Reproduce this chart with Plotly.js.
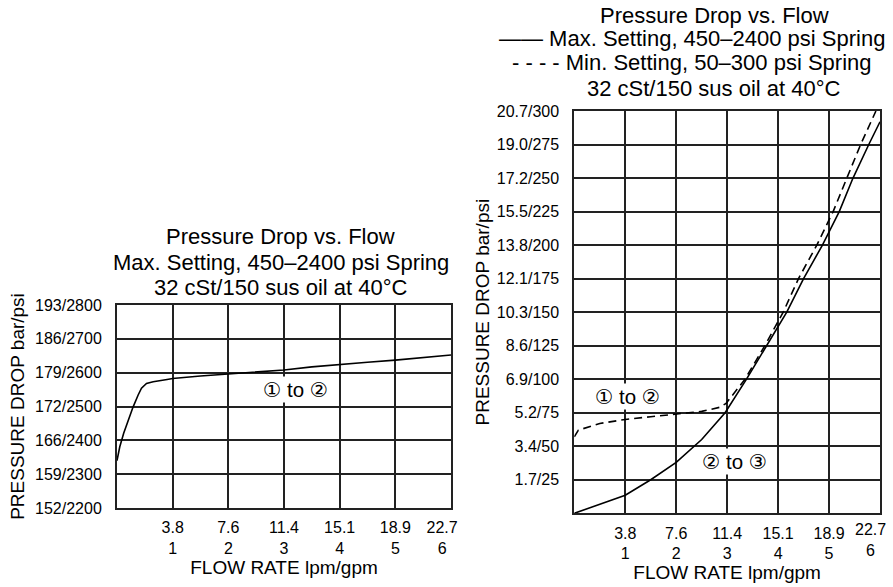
<!DOCTYPE html>
<html>
<head>
<meta charset="utf-8">
<script src="https://cdn.plot.ly/plotly-3.0.1.min.js"></script>
<style>
  html, body { margin: 0; padding: 0; background: #fff; }
  #chart { width: 893px; height: 587px; }
</style>
</head>
<body>
<div id="chart"></div>
<script>
// ---- Data ----
// Left chart: 1 to 2, max setting 450–2400 psi spring
const flowLeft = [0, 0.05, 0.12, 0.2, 0.29, 0.38, 0.44, 0.53, 0.65, 0.9, 1.0, 1.5, 2.0, 2.5, 3.0, 3.5, 4.0, 4.5, 5.0, 5.5, 6.0];
const psiLeft  = [2340, 2381, 2421, 2460, 2499, 2534, 2554, 2568, 2573, 2580, 2583, 2590, 2596, 2601, 2608, 2617, 2625, 2631, 2637, 2645, 2652];

// Right chart: solid = max setting (2 to 3), dashed = min setting (1 to 2)
const flowMax = [0, 0.5, 1.0, 1.5, 2.0, 2.5, 2.96, 3.38, 3.78, 4.17, 4.5, 4.87, 5.2, 5.47, 5.78, 6.0];
const psiMax  = [0, 6.5, 13.5, 25, 38, 55, 75, 100, 125, 150, 175, 200, 225, 250, 275, 292];

const flowMin = [0, 0.08, 0.5, 1.0, 1.5, 2.0, 2.5, 2.85, 2.98, 3.35, 3.74, 4.1, 4.4, 4.76, 5.08, 5.35, 5.62, 5.92];
const psiMin  = [57, 62, 67, 70, 72, 74, 76, 79, 82, 100, 125, 150, 175, 200, 225, 250, 275, 300];

// Tick labels
const flowTicks = [0, 1, 2, 3, 4, 5, 6];
const lpmLabels = ["", "3.8", "7.6", "11.4", "15.1", "18.9", "22.7"];
const gpmLabels = ["", "1", "2", "3", "4", "5", "6"];
const leftPsiTicks = [2200, 2300, 2400, 2500, 2600, 2700, 2800];
const leftPsiText = ["152/2200", "159/2300", "166/2400", "172/2500", "179/2600", "186/2700", "193/2800"];
const rightPsiTicks = [0, 25, 50, 75, 100, 125, 150, 175, 200, 225, 250, 275, 300];
const rightPsiText = ["", "1.7/25", "3.4/50", "5.2/75", "6.9/100", "8.6/125", "10.3/150", "12.1/175", "13.8/200", "15.5/225", "17.2/250", "19.0/275", "20.7/300"];

// Titles
const leftTitle = ["Pressure Drop vs. Flow", "Max. Setting, 450–2400 psi Spring", "32 cSt/150 sus oil at 40°C"];
const rightTitle = ["Pressure Drop vs. Flow", "—— Max. Setting, 450–2400 psi Spring", "- - - - Min. Setting, 50–300 psi Spring", "32 cSt/150 sus oil at 40°C"];

// ---- Layout helpers ----
const W = 893, H = 587;
const px = v => v / W;
const py = v => 1 - v / H;
const FONT = "Liberation Sans, Arial, Helvetica, sans-serif";
const GRID = "#222";
const PAD = "\u00a0\u00a0\u00a0\u00a0";
const LAST = lpmLabels.length - 1;
const pair = i => lpmLabels[i] === "" ? "" : lpmLabels[i] + "<br>" + gpmLabels[i];

// Left chart: last label sits slightly left of its gridline in the reference
const leftTickText = lpmLabels.map((l, i) =>
  i === LAST ? l + PAD + "<br>" + gpmLabels[i] + PAD : pair(i));
// Right chart: last label is drawn as a right-anchored annotation so it stays inside the page
const rightTickText = lpmLabels.map((l, i) => i === LAST ? "" : pair(i));

const traces = [
  { x: flowLeft, y: psiLeft, xaxis: "x", yaxis: "y", type: "scatter", mode: "lines",
    line: { color: "#000", width: 1.6 }, name: "① to ②", showlegend: false },
  { x: flowMax, y: psiMax, xaxis: "x2", yaxis: "y2", type: "scatter", mode: "lines",
    line: { color: "#000", width: 1.6 }, name: "Max. Setting", showlegend: false },
  { x: flowMin, y: psiMin, xaxis: "x2", yaxis: "y2", type: "scatter", mode: "lines",
    line: { color: "#000", width: 1.6, dash: "8px,5px" }, name: "Min. Setting", showlegend: false }
];

function xAxis(domain, ticktext) {
  return {
    domain: domain, range: [0, 6], tickvals: flowTicks, ticktext: ticktext,
    showgrid: true, gridcolor: GRID, gridwidth: 2, zeroline: false,
    showline: true, linecolor: GRID, linewidth: 2, mirror: true,
    ticks: "", ticklabelstandoff: 4, ticklabeloverflow: "allow", fixedrange: true,
    tickfont: { family: FONT, size: 16, color: "#000" },
    title: { text: "FLOW RATE lpm/gpm", font: { family: FONT, size: 19, color: "#000" }, standoff: 0 }
  };
}
function yAxis(domain, range, vals, text, anchor, standoff) {
  return {
    domain: domain, range: range, tickvals: vals, ticktext: text, anchor: anchor,
    showgrid: true, gridcolor: GRID, gridwidth: 2, zeroline: false,
    showline: true, linecolor: GRID, linewidth: 2, mirror: true,
    ticks: "", ticklabelstandoff: 10, fixedrange: true,
    tickfont: { family: FONT, size: 16, color: "#000" },
    title: { text: "PRESSURE DROP bar/psi", font: { family: FONT, size: 19, color: "#000" }, standoff: standoff }
  };
}

const annotations = [];
const leftTitleY = [236, 262, 287];
leftTitle.forEach((t, i) => annotations.push({
  text: t, xref: "paper", yref: "paper", x: px(280.5), y: py(leftTitleY[i]),
  xanchor: "center", yanchor: "middle", showarrow: false,
  font: { family: FONT, size: 22, color: "#000" }
}));
const rightTitleY = [15, 39, 63, 88];
const rightTitleX = [714, 692, 692, 713];
rightTitle.forEach((t, i) => annotations.push({
  text: t, xref: "paper", yref: "paper", x: px(rightTitleX[i]), y: py(rightTitleY[i]),
  xanchor: "center", yanchor: "middle", showarrow: false,
  font: { family: FONT, size: 22, color: "#000" }
}));
// last flow-rate tick label of the right chart
annotations.push({
  text: pair(LAST), xref: "x2", yref: "y2", x: flowTicks[LAST], y: 0,
  xanchor: "right", yanchor: "top", align: "center", xshift: 8, yshift: -6, showarrow: false,
  font: { family: FONT, size: 16, color: "#000" }
});
const labelFont = { family: FONT + ", DejaVu Sans", size: 20.5, color: "#000" };
annotations.push({ text: "① to ②", xref: "x", yref: "y", x: 3.2, y: 2549, showarrow: false,
  bgcolor: "#fff", font: labelFont, xanchor: "center", yanchor: "middle" });
annotations.push({ text: "① to ②", xref: "x2", yref: "y2", x: 1.05, y: 87, showarrow: false,
  bgcolor: "#fff", font: labelFont, xanchor: "center", yanchor: "middle" });
annotations.push({ text: "② to ③", xref: "x2", yref: "y2", x: 3.15, y: 38.5, showarrow: false,
  bgcolor: "#fff", font: labelFont, xanchor: "center", yanchor: "middle" });

const layout = {
  width: W, height: H,
  margin: { l: 0, r: 0, t: 0, b: 0 },
  paper_bgcolor: "#fff", plot_bgcolor: "#fff",
  showlegend: false,
  font: { family: FONT, color: "#000" },
  xaxis: Object.assign(xAxis([px(117), px(451)], leftTickText), { anchor: "y" }),
  yaxis: yAxis([1 - 508 / H, 1 - 305 / H], [2200, 2800], leftPsiTicks, leftPsiText, "x", 5),
  xaxis2: Object.assign(xAxis([px(574.3), px(880)], rightTickText), { anchor: "y2" }),
  yaxis2: yAxis([1 - 513.3 / H, 1 - 111 / H], [0, 300], rightPsiTicks, rightPsiText, "x2", 2),
  annotations: annotations
};

Plotly.newPlot("chart", traces, layout, { displayModeBar: false, staticPlot: true });
</script>
</body>
</html>
